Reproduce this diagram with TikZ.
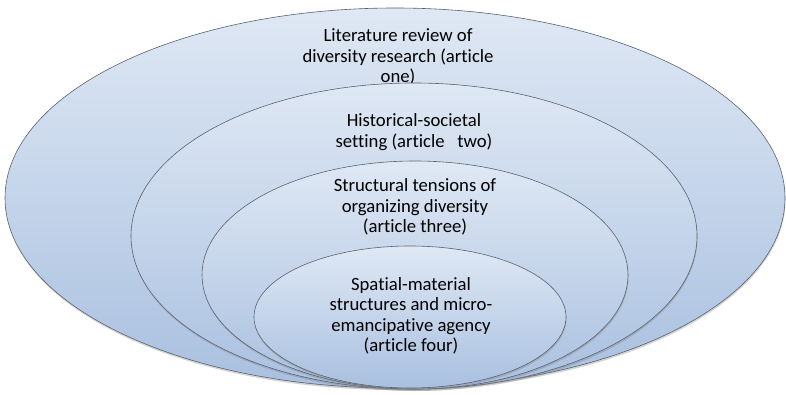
\documentclass[tikz,border=0pt]{standalone}
\usepackage{fontspec}
\setmainfont{Carlito}[Ligatures=NoCommon]
\usepackage{tikz}
\usetikzlibrary{shapes,positioning,shadows}

\definecolor{ringtop}{HTML}{DFE8F4}
\definecolor{ringbottom}{HTML}{A9C0E0}
\definecolor{ringline}{HTML}{5A6270}

\tikzset{
    ring/.style={draw=ringline, line width=0.6pt, top color=ringtop, bottom color=ringbottom,
        drop shadow={shadow xshift=0.5pt, shadow yshift=-2pt, opacity=0.35}},
    ringtext/.style={align=center, font=\fontsize{18.7}{20.5}\selectfont, text=black}
}

\begin{document}
\begin{tikzpicture}[x=1pt, y=-1pt]
        \useasboundingbox (0,0) rectangle (786,395);

        % Article one
        \draw[ring] (395,198) ellipse [x radius=390, y radius=190];
        \node[ringtext] (one) at (398,57) {Literature review of\\diversity research (article\\one)};

        % Article two
        \draw[ring] (414,236) ellipse [x radius=283, y radius=153];
        \node[ringtext] (two) at (414,132) {Historical-societal\\setting (article\ \ \ two)};

        % Article three
        \draw[ring] (415,275) ellipse [x radius=213, y radius=114];
        \node[ringtext] (three) at (415,207) {Structural tensions of\\organizing diversity\\(article three)};

        % Article four
        \draw[ring] (410,317) ellipse [x radius=156, y radius=71];
        \node[ringtext] (four) at (411,316) {Spatial-material\\structures and micro-\\emancipative agency\\(article four)};
    \end{tikzpicture}
\end{document}
